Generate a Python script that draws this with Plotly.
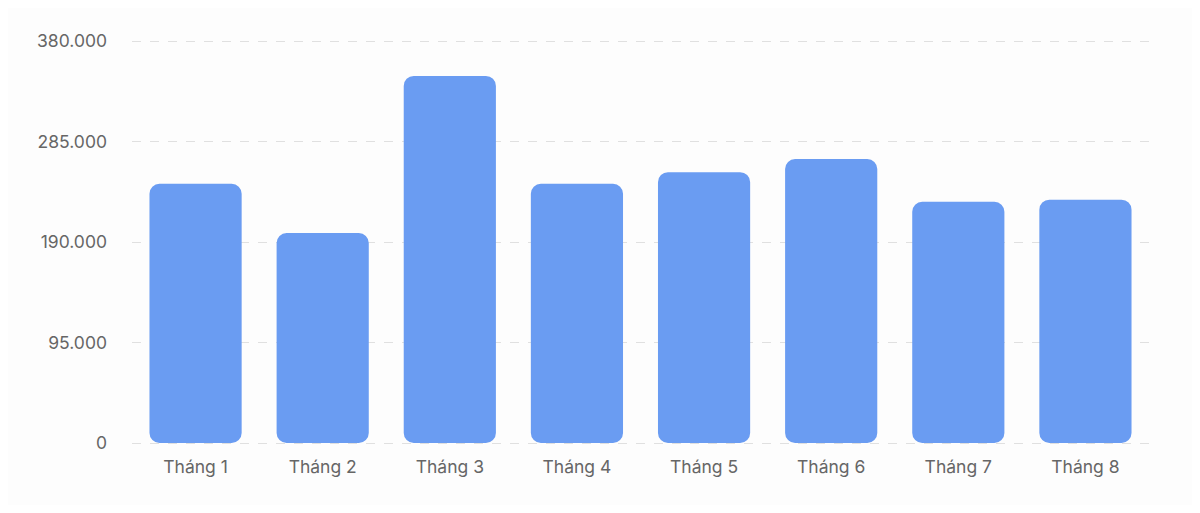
import plotly.graph_objects as go

categories = ["Tháng 1", "Tháng 2", "Tháng 3", "Tháng 4", "Tháng 5", "Tháng 6", "Tháng 7", "Tháng 8"]
values = [245000, 198500, 347000, 245000, 256000, 268500, 228000, 230000]
tick_vals = [0, 95000, 190000, 285000, 380000]
tick_text = ["0", "95.000", "190.000", "285.000", "380.000"]

bar_color = "#6a9cf2"

fig = go.Figure()
fig.add_trace(go.Bar(
    x=categories, y=values, base=0,
    marker=dict(color=bar_color, line=dict(width=0), cornerradius=10),
    hovertemplate="%{x}: %{y}<extra></extra>",
))
fig.update_layout(
    width=1184, height=497,
    margin=dict(l=124, r=43, t=29, b=58),
    paper_bgcolor="#fdfdfd", plot_bgcolor="#fdfdfd",
    bargap=0.275,
    showlegend=False,
    font=dict(family="Inter, Roboto, sans-serif", size=17.5, color="#666666"),
    xaxis=dict(showgrid=False, showline=False, ticks="", ticklabelstandoff=7,
               tickfont=dict(size=17.5, color="#666666")),
    yaxis=dict(range=[-3781, 383781], tickvals=tick_vals, ticktext=tick_text,
               showgrid=True, gridcolor="#e0e0e0", griddash="dash", gridwidth=1,
               zeroline=False, showline=False, ticks="", ticklabelstandoff=24,
               tickfont=dict(size=17.5, color="#666666")),
)
fig.write_html("out.html")
